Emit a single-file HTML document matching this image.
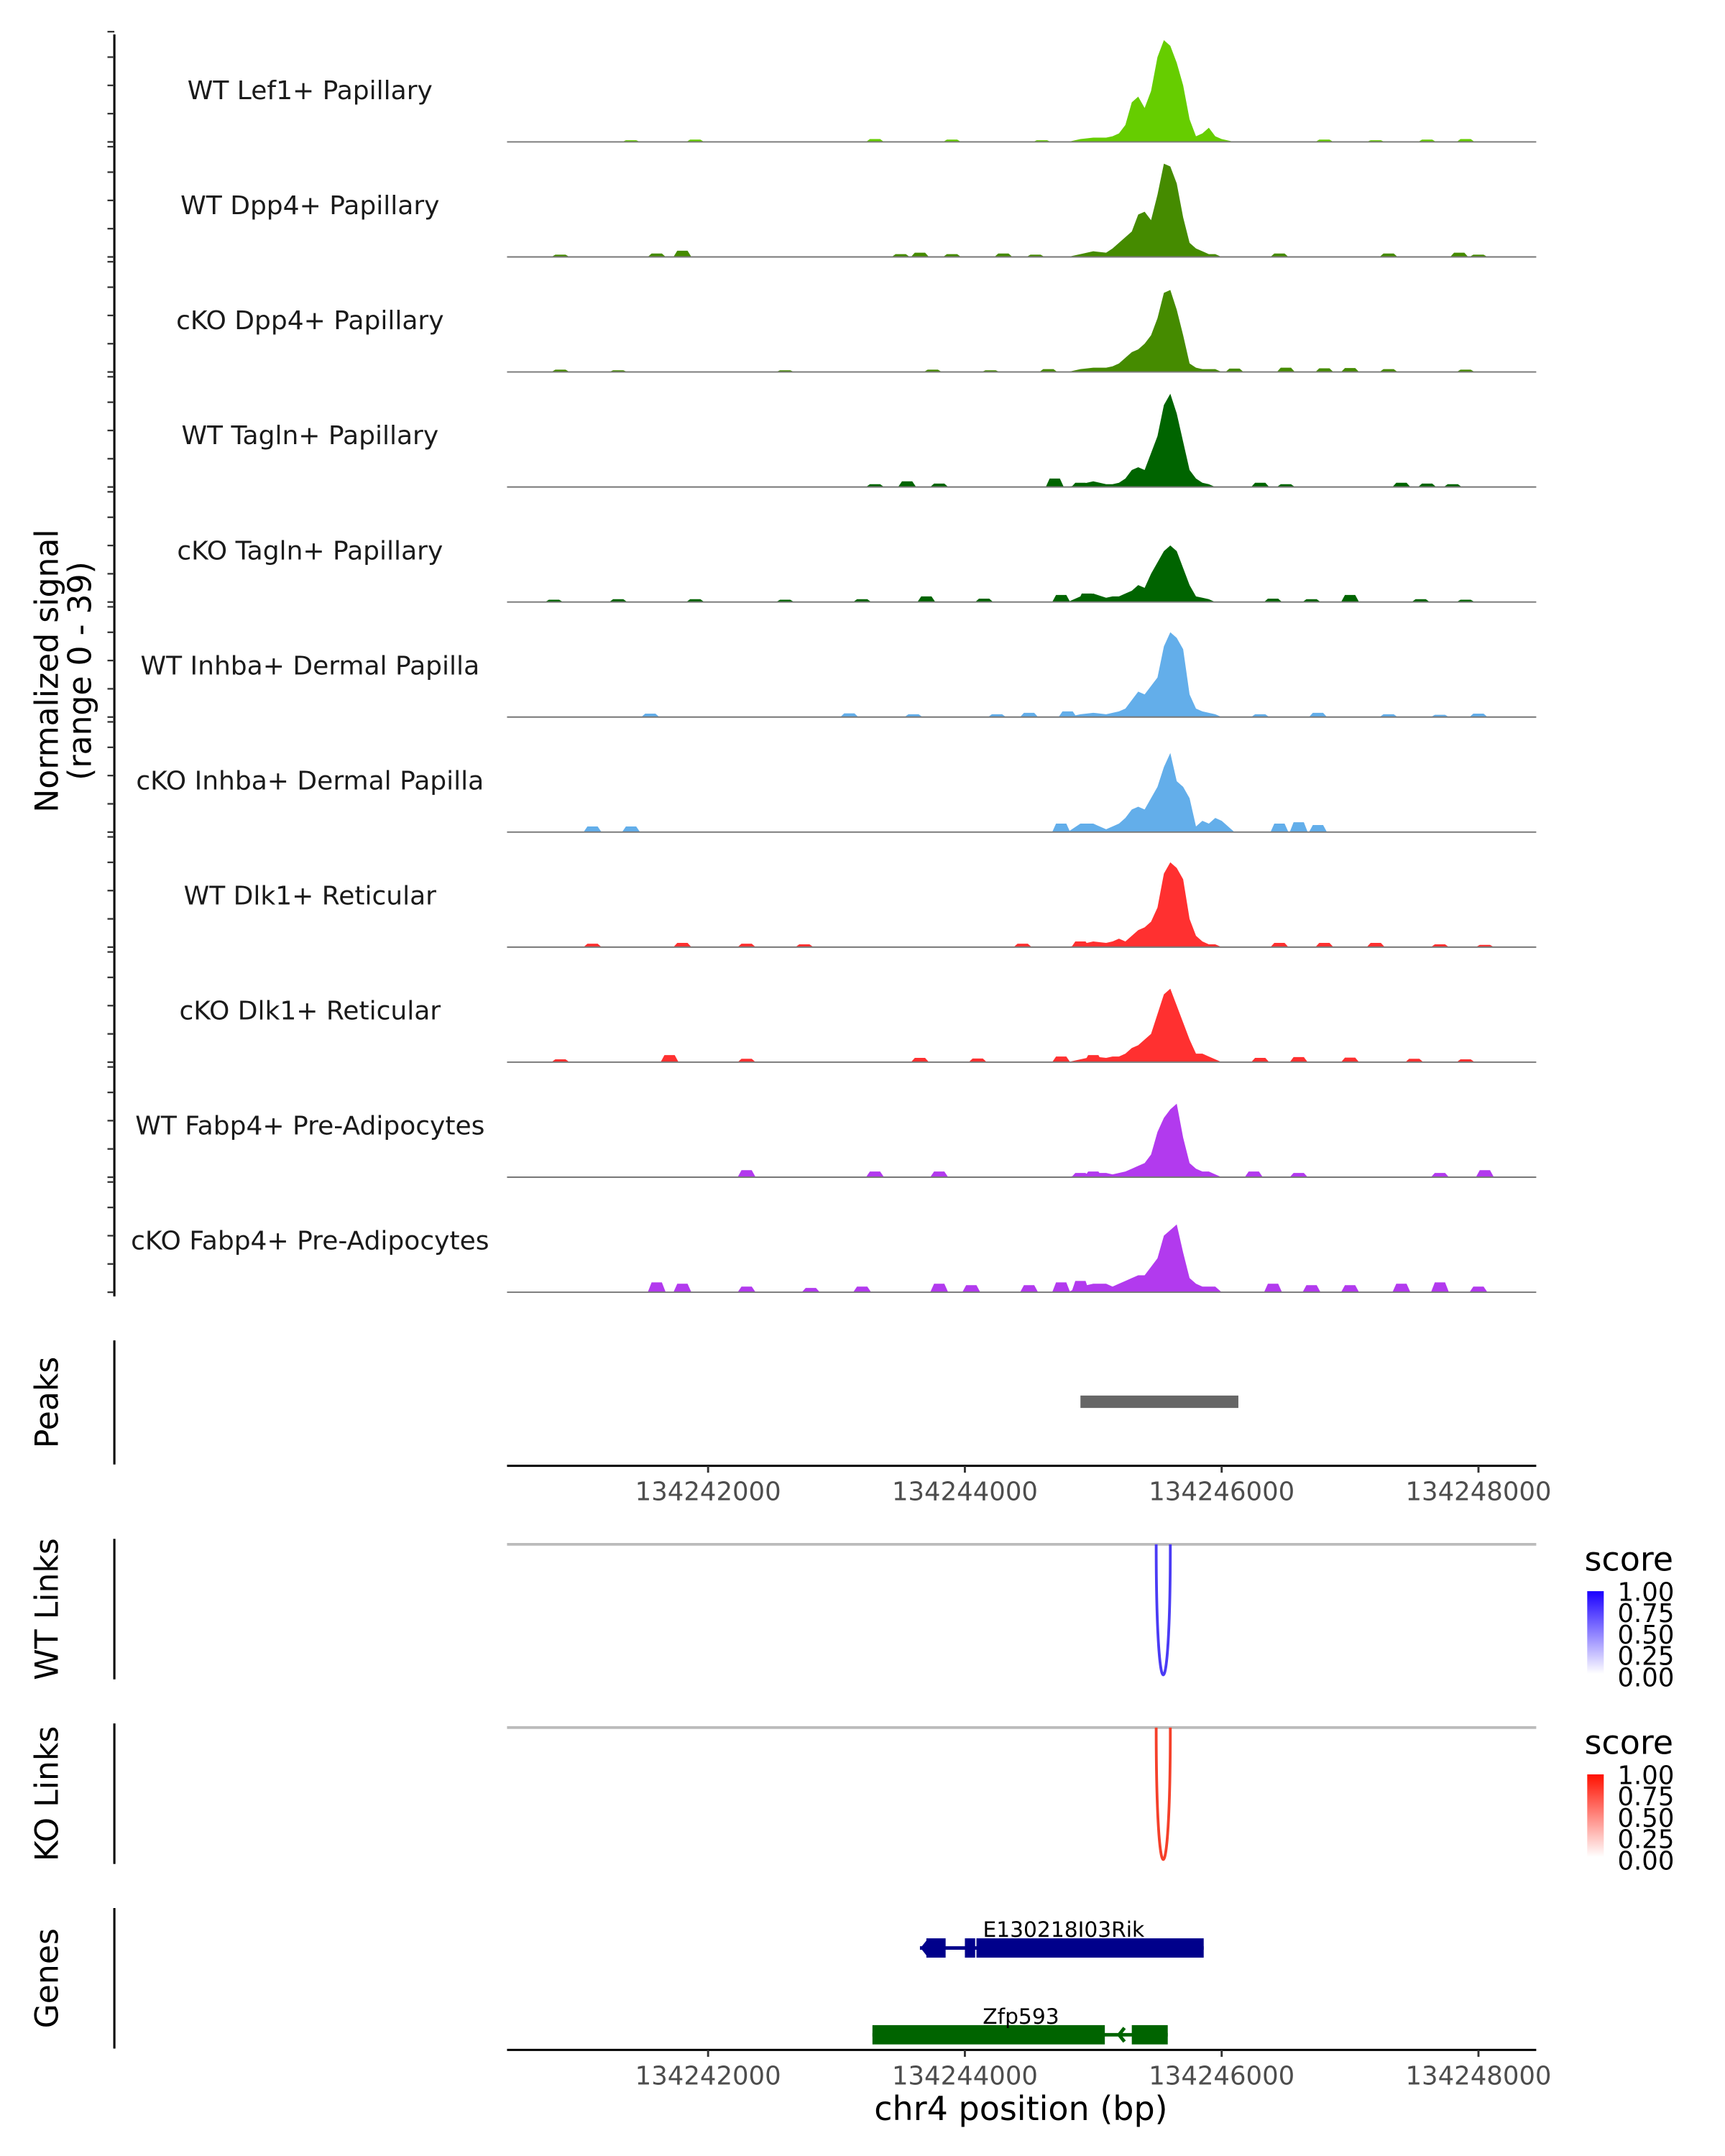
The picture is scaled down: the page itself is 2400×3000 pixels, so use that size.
<!DOCTYPE html>
<html><head><meta charset="utf-8"><style>
html,body{margin:0;padding:0;background:#fff}
svg{display:block}
text{font-family:"DejaVu Sans","Liberation Sans",sans-serif}
</style></head><body>
<svg id="chart" xmlns="http://www.w3.org/2000/svg" width="2400" height="3000" viewBox="0 0 1252 1565">
<g id="g"></g>
</svg>
<script>
// ---- data ----
const xTicks = [134242000, 134244000, 134246000, 134248000];
const xDomain = [134240434, 134248450];
const trackNames = ["WT Lef1+ Papillary","WT Dpp4+ Papillary","cKO Dpp4+ Papillary","WT Tagln+ Papillary","cKO Tagln+ Papillary","WT Inhba+ Dermal Papilla","cKO Inhba+ Dermal Papilla","WT Dlk1+ Reticular","cKO Dlk1+ Reticular","WT Fabp4+ Pre-Adipocytes","cKO Fabp4+ Pre-Adipocytes"];
const trackColors = ["#66cd00","#458b00","#458b00","#006400","#006400","#63aeea","#63aeea","#ff3030","#ff3030","#b23aee","#b23aee"];
const peakPos = [134244800,134244900,134245000,134245100,134245150,134245200,134245250,134245300,134245350,134245400,134245450,134245500,134245550,134245600,134245650,134245700,134245750,134245800,134245850,134245900,134245950,134246000,134246100];
const peakLef1   = [0,1,1.5,1.5,2,3,6,14,16,12,18,30,36,34,28,20,8,2,3,5,2,1,0];
const peakDpp4   = [0,1,2,1.5,3,5,7,9,15,16,13,22,33,32,26,14,5,3,2,1,1,0,0];
const peakCDpp4  = [0,1,1.5,1.5,2,3,5,7,8,10,13,19,28,29,22,13,3,1.5,1,1,1,0,0];
const peakTagln  = [0,1,2,1,1,1.5,3,6,7,6,12,18,29,33,26,16,6,3,1.5,1,0,0,0];
const peakCTagln = [0,2,3,1.5,2,2,3,4,6,5,10,14,18,20,18,12,6,2,1.5,1,0,0,0];
const peakInhba  = [0,1,1.5,1,1.5,2,3,6,9,8,11,14,25,30,28,24,8,3,2,1.5,1,0,0];
const peakCInhba = [0,3,3,1,2,3,5,8,9,8,12,16,23,28,18,16,12,2,4,3,5,4,0];
const peakDlk1   = [0,1,2,1.5,2,3,2,4,6,7,9,14,26,30,28,24,10,4,2,1,1,0,0];
const peakCDlk1  = [0,1,2,1.5,2,2,3,5,6,8,10,17,24,26,20,14,8,3,3,2,1,0,0];
const peakFabp4  = [0,1,1.5,1.5,1,1.5,2,3,4,5,8,16,21,24,26,14,5,3,2,2,1,0,0];
const peakCFabp4 = [0,2,3,3,2,3,4,5,6,6,9,12,20,22,24,14,5,3,2,2,2,0,0];
const peakVals = [peakLef1,peakDpp4,peakCDpp4,peakTagln,peakCTagln,peakInhba,peakCInhba,peakDlk1,peakCDlk1,peakFabp4,peakCFabp4];
// background bumps: positions (bp) and heights
const bumpPos = [
 [134241400,134241900,134243300,134243900,134244600,134246800,134247200,134247600,134247900],
 [134240850,134241600,134241800,134243500,134243650,134243900,134244300,134244550,134246450,134247300,134247850,134248000],
 [134240850,134241300,134242600,134243750,134244200,134244650,134246100,134246500,134246800,134247000,134247300,134247900],
 [134243300,134243550,134243800,134244700,134244900,134246300,134246500,134247400,134247600,134247800],
 [134240800,134241300,134241900,134242600,134243200,134243700,134244150,134244750,134244950,134246400,134246700,134247000,134247550,134247900],
 [134241550,134243100,134243600,134244250,134244500,134244800,134246300,134246750,134247300,134247700,134248000],
 [134241100,134241400,134244750,134244950,134246450,134246600,134246750],
 [134241100,134241800,134242300,134242750,134244450,134244900,134246450,134246800,134247200,134247700,134248050],
 [134240850,134241700,134242300,134243650,134244100,134244750,134245000,134246300,134246600,134247000,134247500,134247900],
 [134242300,134243300,134243800,134244900,134245000,134246250,134246600,134247700,134248050],
 [134241600,134241800,134242300,134242800,134243200,134243800,134244050,134244500,134244750,134244900,134246400,134246700,134247000,134247400,134247700,134248000]
];
const bumpVal = [
 [0.6,0.8,1,0.8,0.6,0.8,0.6,0.8,1],
 [0.8,1.2,2.2,1,1.5,1,1.2,0.8,1.2,1.2,1.5,0.8],
 [0.8,0.6,0.6,0.8,0.6,1,1.2,1.5,1.3,1.4,1,0.8],
 [1,2,1.2,3,1.5,1.5,1,1.5,1.2,1],
 [0.8,1,1,0.8,1,2,1.2,2.5,3,1.2,1,2.5,1,0.8],
 [1.2,1.3,1,1,1.5,2,1,1.5,1,0.8,1.2],
 [2,2,3,2.5,3,3.5,2.5],
 [1.2,1.5,1.2,1,1.2,2,1.5,1.5,1.5,1,0.8],
 [1,2.5,1.2,1.5,1.3,2,2.5,1.5,1.8,1.6,1.2,1],
 [2.5,2,2,1.5,2,2,1.5,1.5,2.5],
 [3.5,3,2,1.5,2,3,2.5,2.5,3.5,4,3,2.5,2.5,3,3.5,2]
];
const yMax = 39;
const yTicks = [0,10,20,30];
const peakRegion = [134244900, 134246130];
const wtLink = [134245490, 134245600, 0.8];
const koLink = [134245490, 134245600, 0.8];
const legendTicks = ["1.00","0.75","0.50","0.25","0.00"];
const genes = [
 {name:"E130218I03Rik", color:"#00008b", start:134243650, end:134245860, exons:[[134243700,134243850],[134244000,134244080],[134244090,134245860]], row:0, strand:"-"},
 {name:"Zfp593", color:"#006400", start:134243280, end:134245580, exons:[[134243280,134245090],[134245300,134245580]], row:1, strand:"-"}
];
// ---- layout ----
const NS="http://www.w3.org/2000/svg";
const G=document.getElementById('g');
function el(tag,attrs,parent){const e=document.createElementNS(NS,tag);for(const k in attrs)e.setAttribute(k,attrs[k]);(parent||G).appendChild(e);return e;}
const X0=368,X1=1115;
function xs(bp){return X0+(bp-xDomain[0])/(xDomain[1]-xDomain[0])*(X1-X0);}
const base0=103, step=83.5, trackH=80;
function ys(v,base){return base - v/yMax*trackH;}

let a=el('line',{x1:83,y1:25,x2:83,y2:941,stroke:'#000','stroke-width':1.6});


let yt=el('text',{x:0,y:0,'font-size':23,'text-anchor':'middle',transform:'translate(42,487) rotate(-90)'});


yt.textContent='Normalized signal';
let yt2=el('text',{x:0,y:0,'font-size':23,'text-anchor':'middle',transform:'translate(66,487) rotate(-90)'});


yt2.textContent='(range 0 - 39)';

trackNames.forEach((name,i)=>{
  const base=base0+i*step;
  const g=el('g',{});
  
  
  yTicks.concat([yMax]).forEach(t=>{
    const tk=el('line',{x1:78,x2:83,y1:ys(t,base),y2:ys(t,base),stroke:'#333','stroke-width':1.2},g);
    
    
  });
  const lab=el('text',{x:225,y:base-31,'font-size':18.8,'text-anchor':'middle',fill:'#1a1a1a'},g);
  
  
  lab.textContent=name;
  const pv=peakVals[i];
  let d='M'+xs(peakPos[0])+','+base;
  peakPos.forEach((p,j)=>{d+=' L'+xs(p).toFixed(2)+','+ys(pv[j],base).toFixed(2);});
  d+=' L'+xs(peakPos[peakPos.length-1])+','+base+' Z';
  const ar=el('path',{d:d,fill:trackColors[i]},g);
  
  
  bumpPos[i].forEach((p,j)=>{
    const h=bumpVal[i][j];
    const bd='M'+xs(p-70)+','+base+' L'+xs(p-40)+','+ys(h,base)+' L'+xs(p+40)+','+ys(h,base)+' L'+xs(p+70)+','+base+' Z';
    const b=el('path',{d:bd,fill:trackColors[i]},g);
    
    
  });
  const bl=el('line',{x1:X0,x2:X1,y1:base,y2:base,stroke:'#777','stroke-width':1},g);
  
  
});

function sideAxis(y1,y2,label,name){
  const l=el('line',{x1:83,x2:83,y1:y1,y2:y2,stroke:'#000','stroke-width':1.6});
  
  
  const t=el('text',{x:0,y:0,'font-size':23,'text-anchor':'middle',transform:'translate(42,'+((y1+y2)/2)+') rotate(-90)'});
  
  
  t.textContent=label;
}
function xAxis(y,name){
  const l=el('line',{x1:X0,x2:X1,y1:y,y2:y,stroke:'#000','stroke-width':1.6});
  
  
  xTicks.forEach(t=>{
    const tk=el('line',{x1:xs(t),x2:xs(t),y1:y,y2:y+5,stroke:'#333','stroke-width':1.5});
    
    
    const tl=el('text',{x:xs(t),y:y+25,'font-size':18.5,'text-anchor':'middle',fill:'#4d4d4d'});
    
    
    tl.textContent=t;
  });
}
sideAxis(973,1063,'Peaks','peaks');
const pk=el('rect',{x:xs(peakRegion[0]),y:1013,width:xs(peakRegion[1])-xs(peakRegion[0]),height:9,fill:'#666'});


xAxis(1064,'peaks-x-axis');

function linkPanel(y1,y2,lineY,link,col,label,name,grad,c1){
  sideAxis(y1,y2,label,name);
  const hl=el('line',{x1:X0,x2:X1,y1:lineY,y2:lineY,stroke:'#bbb','stroke-width':2});
  
  
  const xa=xs(link[0]),xb=xs(link[1]),depth=(y2-3-lineY);
  const arc=el('path',{d:'M'+xa+','+lineY+' C'+xa+','+(lineY+depth*1.33)+' '+xb+','+(lineY+depth*1.33)+' '+xb+','+lineY,fill:'none',stroke:col,'stroke-width':2});
  
  
  const lt=el('text',{x:1150,y:lineY+19,'font-size':24});
  
  
  lt.textContent='score';
  const defs=el('defs',{});
  const lg=el('linearGradient',{id:grad,x1:0,y1:0,x2:0,y2:1},defs);
  el('stop',{offset:'0',"stop-color":c1},lg);
  el('stop',{offset:'1',"stop-color":'#ffffff'},lg);
  const cb=el('rect',{x:1152,y:lineY+34,width:12,height:60,fill:'url(#'+grad+')'});
  
  
  legendTicks.forEach((t,k)=>{
    const tx=el('text',{x:1174,y:lineY+41+k*15.5,'font-size':18.5});
    
    
    tx.textContent=t;
  });
}
linkPanel(1117,1219,1121,wtLink,'#4a3bf5','WT Links','wt-links','gb','#1a00ff');
linkPanel(1251,1353,1254,koLink,'#f5402a','KO Links','ko-links','gr','#ff1000');

sideAxis(1385,1487,'Genes','genes');
genes.forEach(gn=>{
  const cy=1414+gn.row*63;
  const g=el('g',{});
  
  
  const ln=el('line',{x1:xs(gn.start),x2:xs(gn.end),y1:cy,y2:cy,stroke:gn.color,'stroke-width':2.5},g);
  
  
  gn.exons.forEach(e=>{
    const r=el('rect',{x:xs(e[0]),y:cy-7,width:xs(e[1])-xs(e[0]),height:14,fill:gn.color},g);
    
    
  });
  const ax=gn.row===0?xs(gn.start)+2:xs(134245200);
  const arw=el('path',{d:'M'+(ax+4)+','+(cy-5)+' L'+ax+','+cy+' L'+(ax+4)+','+(cy+5),fill:'none',stroke:gn.color,'stroke-width':2.5},g);
  
  
  const t=el('text',{x:gn.row===0?772:741,y:cy-8,'font-size':15.5,'text-anchor':'middle'},g);
  
  
  t.textContent=gn.name;
});
xAxis(1488,'genes-x-axis');
const xt=el('text',{x:741,y:1539,'font-size':24,'text-anchor':'middle'});


xt.textContent='chr4 position (bp)';
</script>
</body></html>
